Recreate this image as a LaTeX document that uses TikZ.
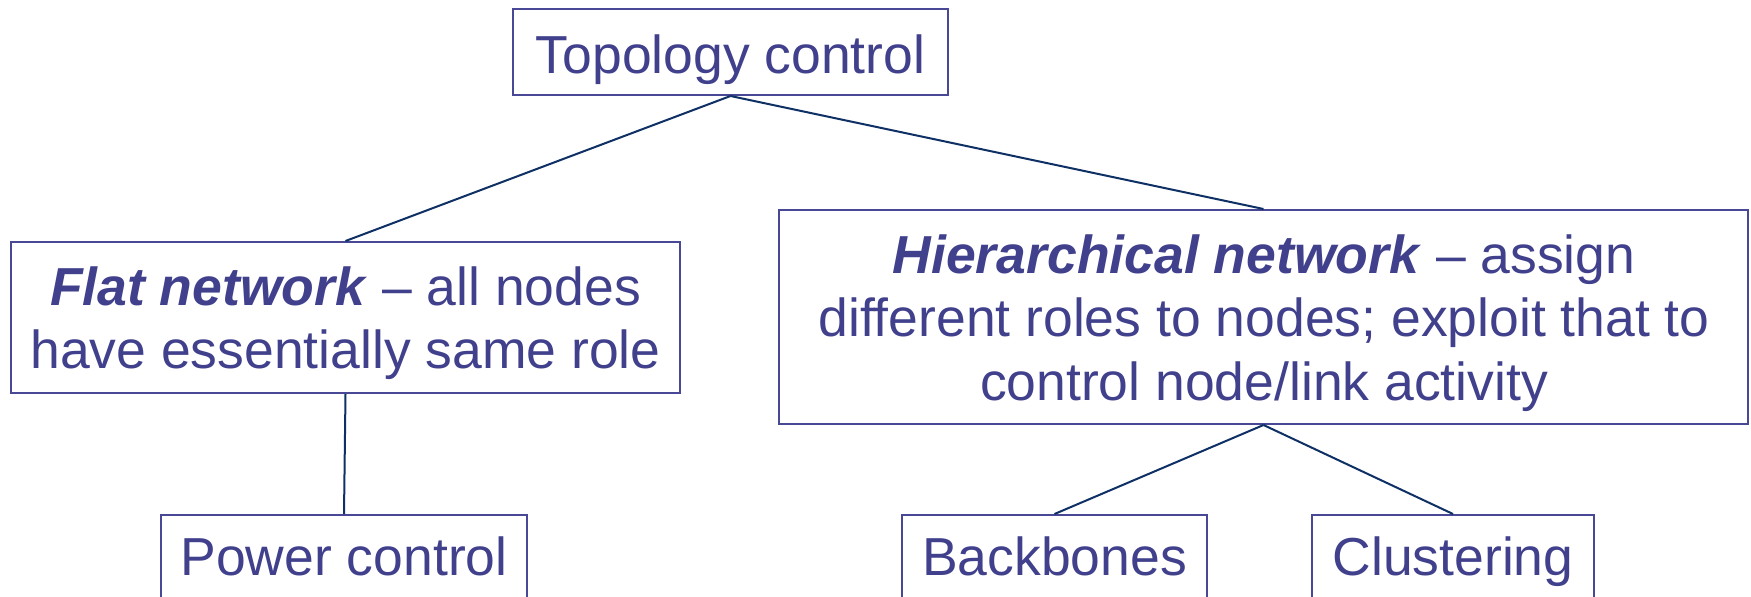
\documentclass[tikz,border=0pt]{standalone}
\usepackage{fontspec}
\setmainfont{Liberation Sans}
\definecolor{txtblue}{RGB}{64,64,140}
\definecolor{boxblue}{RGB}{72,72,150}
\definecolor{linenavy}{RGB}{14,48,100}
\newcommand{\lines}[1]{\begin{tabular}[t]{@{}c@{}}#1\end{tabular}}
\begin{document}
\begin{tikzpicture}[x=1pt,y=-1pt,
  box/.style={draw=boxblue,line width=2pt,fill=white,inner sep=0pt},
  txt/.style={text=txtblue,inner sep=0pt,anchor=base,
    font={\fontsize{53.5}{63.5}\selectfont}},
  link/.style={draw=linenavy,line width=2pt}]
\clip (0,0) rectangle (1751,597);
\fill[white] (0,0) rectangle (1751,597);

% frames of the tree
\node[box,minimum width=435pt,minimum height=86pt] (top) at (730.5,52) {};
\node[box,minimum width=669pt,minimum height=151pt] (flat) at (345.5,317.5) {};
\node[box,minimum width=969pt,minimum height=214pt] (hier) at (1263.5,317) {};
\node[box,minimum width=366pt,minimum height=86pt] (power) at (344,558) {};
\node[box,minimum width=305pt,minimum height=86pt] (back) at (1054.5,558) {};
\node[box,minimum width=282pt,minimum height=86pt] (clus) at (1453,558) {};

% texts, placed on their first baselines
\node[txt] (toptxt) at (730.5,73) {Topology control};
\node[txt] (flattxt) at (345.5,305)
  {\lines{\textbf{\textit{Flat network}} -- all nodes\\have essentially same role}};
\node[txt] (hiertxt) at (1264,273)
  {\lines{\textbf{\textit{Hierarchical network}} -- assign\\different roles to nodes; exploit that to\\control node/link activity}};
\node[txt] (powertxt) at (344,575) {Power control};
\node[txt] (backtxt) at (1054.5,575) {Backbones};
\node[txt] (clustxt) at (1453,575) {Clustering};

% connectors
\draw[link] (top.south) -- (flat.north);
\draw[link] (top.south) -- (hier.north);
\draw[link] (flat.south) -- (power.north);
\draw[link] (hier.south) -- (back.north);
\draw[link] (hier.south) -- (clus.north);
\end{tikzpicture}
\end{document}
